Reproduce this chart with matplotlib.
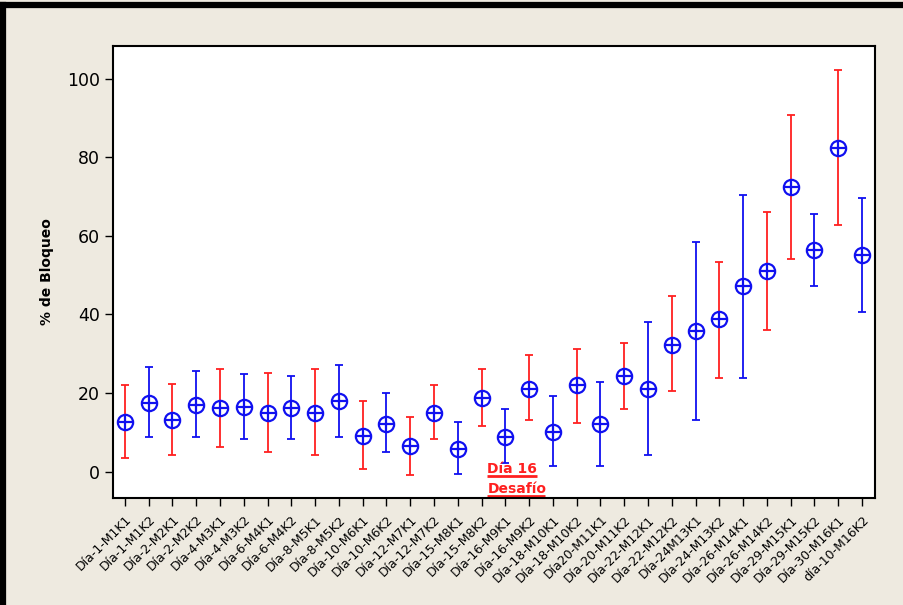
import matplotlib
matplotlib.use('Agg')
import matplotlib.pyplot as plt
from matplotlib.lines import Line2D
import numpy as np

# etiquetas de cada muestra
muestras = ['Día-1-M1K1', 'Día-1-M1K2', 'Día-2-M2K1', 'Día-2-M2K2', 'Día-4-M3K1',
            'Día-4-M3K2', 'Día-6-M4K1', 'Día-6-M4K2', 'Día-8-M5K1', 'Día-8-M5K2',
            'Día-10-M6K1', 'Día-10-M6K2', 'Día-12-M7K1', 'Día-12-M7K2', 'Día-15-M8K1',
            'Día-15-M8K2', 'Día-16-M9K1', 'Día-16-M9K2', 'Día-18-M10K1', 'Día-18-M10K2',
            'Día20-M11K1', 'Día-20-M11K2', 'Día-22-M12K1', 'Día-22-M12K2', 'Día-24M13K1',
            'Día-24-M13K2', 'Día-26-M14K1', 'Día-26-M14K2', 'Día-29-M15K1', 'Día-29-M15K2',
            'Día-30-M16K1', 'día-10-M16K2']

# % de bloqueo (media) y limites del intervalo
media = [12.6, 17.4, 13.0, 17.0, 16.1, 16.5, 14.9, 16.1, 15.0, 18.0,
         9.0, 12.1, 6.5, 15.0, 5.7, 18.6, 8.9, 21.0, 10.2, 22.0,
         12.1, 24.4, 21.0, 32.2, 35.9, 38.7, 47.1, 51.1, 72.4, 56.3,
         82.4, 55.1]
inferior = [3.5, 8.7, 4.2, 8.7, 6.3, 8.3, 5.1, 8.3, 4.2, 8.7,
            0.7, 5.1, -0.9, 8.3, -0.5, 11.5, 2.3, 13.2, 1.5, 12.4,
            1.5, 16.0, 4.3, 20.4, 13.2, 23.9, 23.9, 36.1, 54.1, 47.3,
            62.8, 40.5]
superior = [22.1, 26.5, 22.4, 25.6, 26.0, 24.8, 25.2, 24.4, 26.0, 27.2,
            18.0, 20.0, 13.9, 22.0, 12.7, 26.0, 16.0, 29.6, 19.2, 31.2,
            22.8, 32.8, 38.0, 44.8, 58.4, 53.3, 70.5, 66.1, 90.7, 65.6,
            102.3, 69.6]
# grupo de cada intervalo (r = rojo, b = azul)
grupo = ['r', 'b', 'r', 'b', 'r', 'b', 'r', 'b', 'r', 'b',
         'r', 'b', 'r', 'r', 'b', 'r', 'b', 'r', 'b', 'r',
         'b', 'r', 'b', 'r', 'b', 'r', 'b', 'r', 'r', 'b',
         'r', 'b']

colores = {'r': '#FF2020', 'b': '#1010F0'}
fondo = '#EEEAE0'

fig = plt.figure(figsize=(9.04, 6.05), dpi=100, facecolor=fondo)
ax = fig.add_axes([0.125, 0.177, 0.843, 0.747])
ax.set_facecolor('white')

x = np.arange(len(muestras))
for i in x:
    c = colores[grupo[i]]
    ax.errorbar(x[i], media[i],
                yerr=[[media[i] - inferior[i]], [superior[i] - media[i]]],
                fmt='none', ecolor=c, elinewidth=1.3, capsize=3.2, capthick=1.3)
ax.plot(x, media, 'o', ms=11, mfc='none', mec='#1010F0', mew=1.6, ls='none')
ax.plot(x, media, '+', ms=11, mec='#1010F0', mew=1.6, ls='none')

ax.set_xlim(-0.5, 31.55)
ax.set_ylim(-6.7, 108.3)
ax.set_yticks([0, 20, 40, 60, 80, 100])
ax.set_xticks(x)
ax.set_xticklabels(muestras, rotation=45, ha='right', rotation_mode='anchor',
                   fontsize=9)
ax.tick_params(axis='y', labelsize=12.5, length=6, width=1, direction='out')
ax.tick_params(axis='x', length=6, width=1, direction='out', pad=5)
for s in ax.spines.values():
    s.set_linewidth(1.5)
ax.set_ylabel('% de Bloqueo', fontsize=10, fontweight='bold', labelpad=9)

# anotacion del desafio (subrayada)
ax.text(15.25, -0.45, 'Día 16', color='#FF2020', fontsize=10, fontweight='bold',
        ha='left', va='baseline')
ax.text(15.25, -5.4, 'Desafío', color='#FF2020', fontsize=10, fontweight='bold',
        ha='left', va='baseline')
ax.plot([15.25, 17.33], [-1.2, -1.2], color='#FF2020', lw=2, clip_on=False,
        solid_capstyle='butt')
ax.plot([15.25, 17.67], [-6.15, -6.15], color='#FF2020', lw=2, clip_on=False,
        solid_capstyle='butt')

# marco negro de la ventana
fig.add_artist(Line2D([3 / 904, 3 / 904], [0, 1 - 5 / 605], color='black', lw=4.5))
fig.add_artist(Line2D([0, 1], [1 - 5 / 605, 1 - 5 / 605], color='black', lw=4.5))

fig.savefig('out.png', dpi=100, facecolor=fondo)
